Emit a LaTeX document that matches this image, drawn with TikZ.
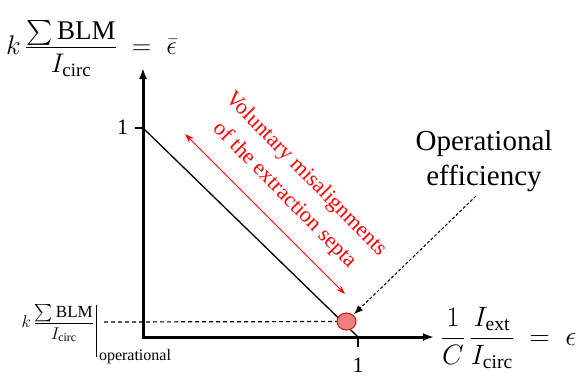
\RequirePackage{fix-cm}
\documentclass[tikz,border=0pt]{standalone}
\usepackage{amsmath}
\usepackage{fontspec}
\setmainfont{Liberation Serif}
\usetikzlibrary{arrows.meta,shapes.geometric}
\definecolor{opfill}{RGB}{240,128,128}
\definecolor{opdraw}{RGB}{190,20,20}
\tikzset{
  axis/.style={line width=3pt,{Latex[length=11pt,width=8pt]}-{Latex[length=11pt,width=8pt]}},
  tickline/.style={line width=1.4pt},
  diag/.style={line width=1.3pt},
  reddbl/.style={red,line width=1pt,{Stealth[length=9pt,width=6pt]}-{Stealth[length=9pt,width=6pt]}},
  refdash/.style={line width=1.2pt,dash pattern=on 4pt off 3pt},
  ptrdash/.style={line width=1pt,dash pattern=on 3pt off 2pt,-{Latex[length=9pt,width=7pt]},shorten >=1pt},
  opmark/.style={ellipse,draw=opdraw,fill=opfill,line width=1pt,minimum width=19pt,minimum height=17pt,inner sep=0pt},
  lbl/.style={inner sep=0pt,outer sep=0pt},
}
\newcommand{\blmsum}{\mathop{\textstyle\sum}\mathrm{BLM}}
\newcommand{\lowernum}[2]{\smash{\raisebox{-#1}{$#2$}}}
\begin{document}
\begin{tikzpicture}[x=1pt,y=-1pt]
\useasboundingbox (0,0) rectangle (578,378);
% axes
\coordinate (O) at (143,337);
\coordinate (ytip) at (143,68);
\coordinate (xtip) at (434,337);
\draw[axis] (ytip) -- (O) -- (xtip);
% ticks
\coordinate (yt1) at (135,128);
\coordinate (yt2) at (143,128);
\coordinate (xt1) at (358,337);
\coordinate (xt2) at (358,347);
\draw[tickline] (yt1) -- (yt2);
\draw[tickline] (xt1) -- (xt2);
\node[lbl,anchor=east,font=\fontsize{22}{26}\selectfont] (y1) at (128,127) {1};
\node[lbl,font=\fontsize{22}{26}\selectfont] (x1) at (358,365) {1};
% diagonal
\coordinate (d1) at (143,128);
\coordinate (d2) at (358,337);
\draw[diag] (d1) -- (d2);
% operating point
\coordinate (dl) at (104,322);
\node[opmark] (op) at (346.5,321.5) {};
\draw[refdash] (dl) -- (op.west);
% red arrow and text
\coordinate (ra1) at (185,134);
\coordinate (ra2) at (345,294);
\draw[reddbl] (ra1) -- (ra2);
\node[lbl,red,align=center,rotate=-45.5,font=\fontsize{22}{30}\selectfont] (vol) at (295,185) {Voluntary misalignments\\of the extraction septa};
% operational efficiency
\node[lbl,anchor=north,align=center,font=\fontsize{29}{35}\selectfont] (eff) at (484,130) {Operational\\efficiency};
\coordinate (es) at (476,196);
\draw[ptrdash] (es) -- (op);
% axis labels
\node[lbl,anchor=base west,font=\fontsize{27}{31}\selectfont] (ylab) at (6,54) {$k\,\dfrac{\lowernum{4pt}{\blmsum}}{I_{\mathrm{circ}}}\;=\;\bar{\epsilon}$};
\node[lbl,anchor=base west,font=\fontsize{28}{32}\selectfont] (xlab) at (441,345) {$\dfrac{1}{C}\,\dfrac{I_{\mathrm{ext}}}{I_{\mathrm{circ}}}\;=\;\epsilon$};
% operational level label
\node[lbl,anchor=base east,font=\fontsize{17}{20}\selectfont] (oplab) at (94,327.5) {$k\,\dfrac{\lowernum{1pt}{\blmsum}}{I_{\mathrm{circ}}}$};
\coordinate (bar1) at (96,305);
\coordinate (bar2) at (96,357);
\draw[line width=1pt] (bar1) -- (bar2);
\node[lbl,anchor=base west,font=\fontsize{16}{19}\selectfont] (opsub) at (99,360) {operational};
\end{tikzpicture}
\end{document}
